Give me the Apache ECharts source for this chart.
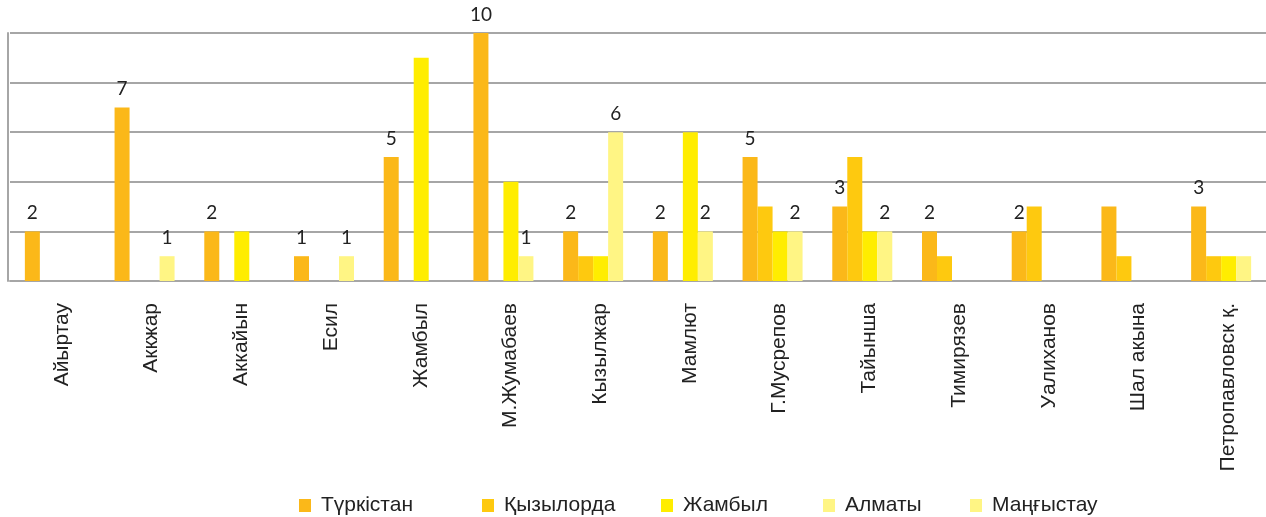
<!DOCTYPE html>
<html>
<head>
<meta charset="utf-8">
<script src="https://cdn.jsdelivr.net/npm/echarts@6/dist/echarts.min.js"></script>
<style>
  html, body { margin: 0; padding: 0; background: #fff; }
  #chart { width: 1266px; height: 517px; }
</style>
</head>
<body>
<div id="chart"></div>
<script>
// Districts along the category axis
const districts = ['Айыртау', 'Аккжар', 'Аккайын', 'Есил', 'Жамбыл', 'М.Жумабаев', 'Кызылжар',
  'Мамлют', 'Г.Мусрепов', 'Тайынша', 'Тимирязев', 'Уалиханов', 'Шал акына', 'Петропавловск қ.'];

// Counts per region of origin
const turkistan  = [2, 7, 2, 1, 5, 10, 2, 2, 5, 3, 2, 2, 3, 3];
const kyzylorda  = [0, 0, 0, 0, 0, 0, 1, 0, 3, 5, 1, 3, 1, 1];
const zhambyl    = [0, 0, 2, 0, 9, 4, 1, 6, 2, 2, 0, 0, 0, 1];
const almaty     = [0, 1, 0, 1, 0, 1, 6, 2, 2, 2, 0, 0, 0, 1];
const mangystau  = [0, 0, 0, 0, 0, 0, 0, 0, 0, 0, 0, 0, 0, 0];

// Which bars carry a value label (category indices)
const labelledTurkistan = [0, 1, 2, 3, 4, 5, 6, 7, 8, 9, 10, 11, 13];
const labelledAlmaty = [1, 3, 5, 6, 7, 8, 9];

// Value axis ticks
const yMin = 0, yMax = 10, yStep = 2;

const colors = {
  turkistan: '#FBB819',
  kyzylorda: '#FEC90F',
  zhambyl: '#FFED00',
  almaty: '#FFF584',
  mangystau: '#FFF584'
};

const valueLabel = {
  show: true, position: 'top', distance: 9,
  color: '#222', fontFamily: 'Lato, sans-serif', fontSize: 19
};

function withLabels(values, labelled) {
  return values.map((v, i) => labelled.includes(i)
    ? { value: v, label: valueLabel }
    : v);
}

const chart = echarts.init(document.getElementById('chart'), null, { renderer: 'canvas' });

const legendFont = {
  fontFamily: '"Liberation Sans", Arial, sans-serif', fontSize: 21, color: '#222',
  padding: [0, 0, 0, 5]
};
const legendBase = {
  top: 495, padding: 0, itemWidth: 12, itemHeight: 13, itemGap: 0,
  icon: 'rect', textStyle: legendFont, selectedMode: false
};

chart.setOption({
  animation: false,
  legend: [
    Object.assign({ left: 299, data: ['Түркістан'] }, legendBase),
    Object.assign({ left: 482, data: ['Қызылорда'] }, legendBase),
    Object.assign({ left: 661, data: ['Жамбыл'] }, legendBase),
    Object.assign({ left: 823, data: ['Алматы'] }, legendBase),
    Object.assign({ left: 970, data: ['Маңғыстау'] }, legendBase)
  ],
  grid: { left: 10, width: 1261, top: 33, bottom: 236, containLabel: false },
  xAxis: {
    type: 'category',
    data: districts,
    axisLine: { show: true, lineStyle: { color: '#A6A6A6', width: 2 } },
    axisTick: { show: false },
    axisLabel: {
      rotate: 90, margin: 22, interval: 0,
      verticalAlign: 'top', lineHeight: 14,
      color: '#222', fontFamily: '"Liberation Sans", Arial, sans-serif', fontSize: 21
    }
  },
  yAxis: {
    type: 'value', min: yMin, max: yMax, interval: yStep, offset: 2,
    axisLine: { show: true, lineStyle: { color: '#A6A6A6', width: 2 } },
    axisTick: { show: false },
    axisLabel: { show: false },
    splitLine: { lineStyle: { color: '#A6A6A6', width: 2 } }
  },
  series: [
    { name: 'Түркістан', type: 'bar', barWidth: 15, barGap: 0,
      itemStyle: { color: colors.turkistan },
      data: withLabels(turkistan, labelledTurkistan) },
    { name: 'Қызылорда', type: 'bar', barWidth: 15, barGap: 0,
      itemStyle: { color: colors.kyzylorda }, data: kyzylorda },
    { name: 'Жамбыл', type: 'bar', barWidth: 15, barGap: 0,
      itemStyle: { color: colors.zhambyl }, data: zhambyl },
    { name: 'Алматы', type: 'bar', barWidth: 15, barGap: 0, stack: 'light',
      itemStyle: { color: colors.almaty },
      data: withLabels(almaty, labelledAlmaty) },
    { name: 'Маңғыстау', type: 'bar', barWidth: 15, barGap: 0, stack: 'light',
      itemStyle: { color: colors.mangystau }, data: mangystau }
  ]
});
</script>
</body>
</html>
